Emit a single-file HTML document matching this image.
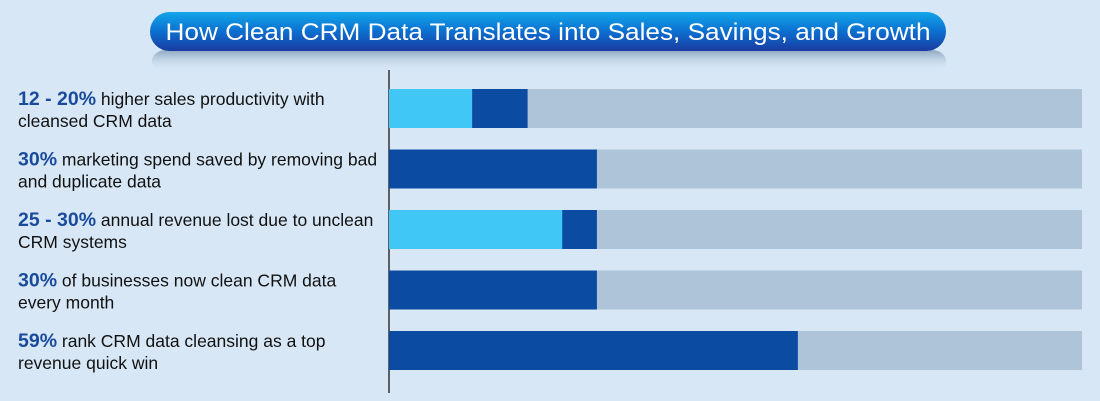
<!DOCTYPE html>
<html><head><meta charset="utf-8"><style>
html,body{margin:0;padding:0;background:#d7e7f6;}
svg{display:block;font-family:"Liberation Sans",Arial,sans-serif;}
</style></head><body>
<svg id="chart" width="1100" height="401" viewBox="0 0 1100 401">
<defs>
<linearGradient id="pill" x1="0" y1="0" x2="0" y2="1">
<stop offset="0" stop-color="#12a6ea"/><stop offset="0.5" stop-color="#0c6fd0"/><stop offset="1" stop-color="#1a3aa0"/>
</linearGradient>
<linearGradient id="refl" x1="0" y1="0" x2="0" y2="1">
<stop offset="0" stop-color="#6d8aa8" stop-opacity="0.7"/><stop offset="1" stop-color="#d7e7f6" stop-opacity="0"/>
</linearGradient>
</defs>
<rect width="1100" height="401" fill="#d7e7f6"/>
<g>
<rect x="152" y="50" width="794" height="22" rx="14" fill="url(#refl)"/>
<rect x="150" y="12" width="796" height="39" rx="19.5" fill="url(#pill)"/>
<text x="548" y="40" text-anchor="middle" fill="#fff" font-size="24" textLength="765" lengthAdjust="spacingAndGlyphs">How Clean CRM Data Translates into Sales, Savings, and Growth</text>
</g>
<line x1="389" y1="70" x2="389" y2="393" stroke="#333" stroke-width="1.5"/>
<g id="bars"></g>
<g id="labels"></g>
</svg>
<script>
const categories = ["sales-productivity","marketing-spend","revenue-lost","businesses-clean","quick-win"];
const lowValues = [12, null, 25, null, null];
const highValues = [20, 30, 30, 30, 59];
const boldLabels = ["12 - 20%","30%","25 - 30%","30%","59%"];
const line1 = [" higher sales productivity with"," marketing spend saved by removing bad"," annual revenue lost due to unclean"," of businesses now clean CRM data"," rank CRM data cleansing as a top"];
const line2 = ["cleansed CRM data","and duplicate data","CRM systems","every month","revenue quick win"];

const NS = "http://www.w3.org/2000/svg";
const x0 = 389, x1 = 1082;
const xs = v => x0 + (v / 100) * (x1 - x0);
const rowY = i => 89 + i * 60.5;
const barH = 39;
const bars = document.getElementById('bars');
const labels = document.getElementById('labels');
function mk(tag, attrs, parent){ const e=document.createElementNS(NS,tag); for(const k in attrs) e.setAttribute(k,attrs[k]); parent.appendChild(e); return e; }
categories.forEach((c,i)=>{
  const y = rowY(i);
  const bg = mk('rect',{x:xs(0),y:y,width:xs(100)-xs(0),height:barH,fill:'#aec4d9'},bars);
  
  
  const hi = mk('rect',{x:xs(0),y:y,width:xs(highValues[i])-xs(0),height:barH,fill:'#0b4ba1'},bars);
  
  
  if (lowValues[i] !== null) {
    const lo = mk('rect',{x:xs(0),y:y,width:xs(lowValues[i])-xs(0),height:barH,fill:'#41c7f5'},bars);
    
    
  }
  const t = mk('text',{x:18,y:y+16,'font-size':17.5,fill:'#111'},labels);
  
  
  const b = mk('tspan',{'font-weight':'bold','font-size':19.5,fill:'#1a4a9c'},t);
  b.textContent = boldLabels[i];
  const r = mk('tspan',{},t);
  r.textContent = line1[i];
  const t2 = mk('text',{x:18,y:y+38,'font-size':17.5,fill:'#111'},labels);
  
  
  t2.textContent = line2[i];
});
</script>
</body></html>
